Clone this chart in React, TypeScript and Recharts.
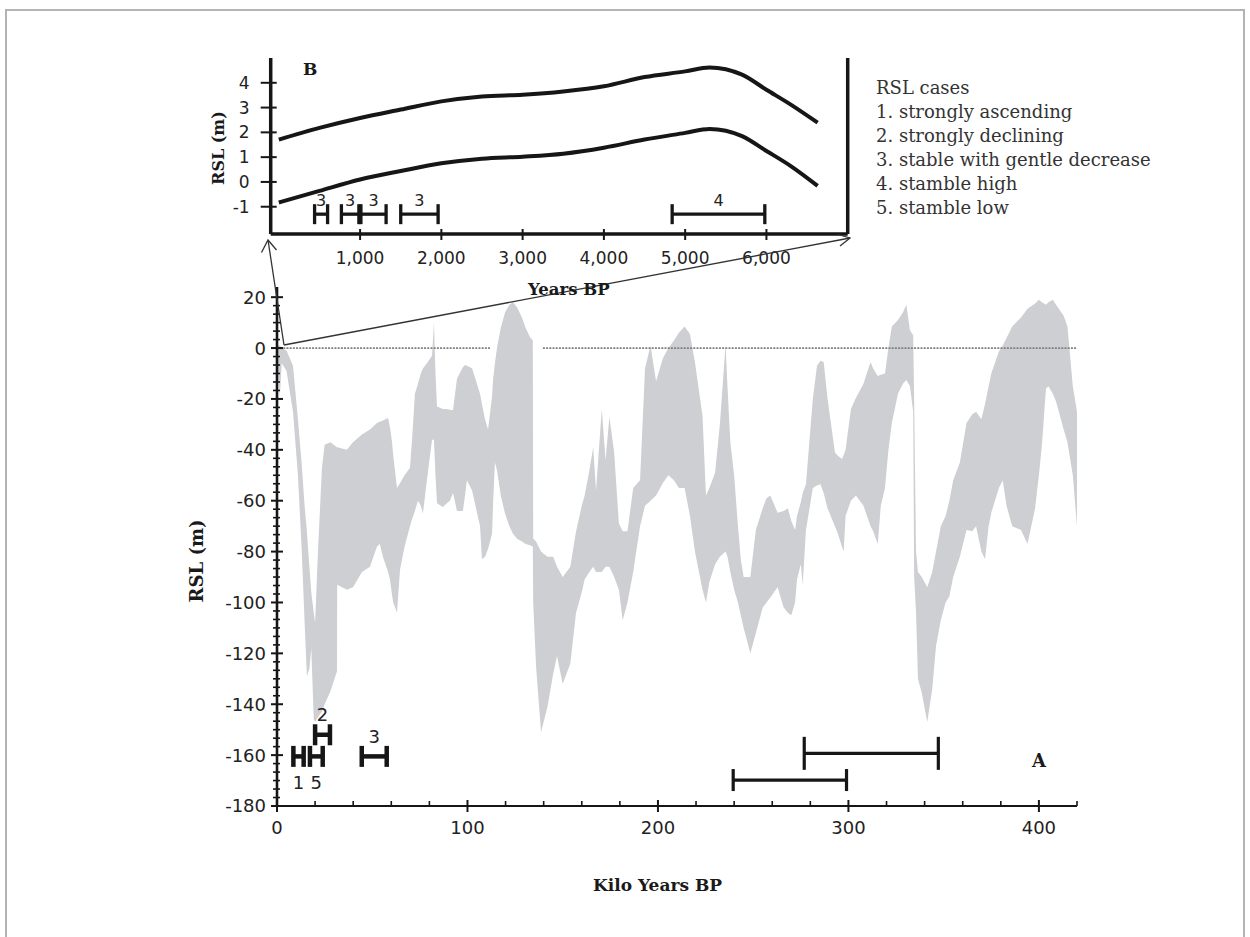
import React from 'react';
import { ComposedChart, Area, Line, XAxis, YAxis, ReferenceLine, Scatter, ErrorBar } from 'recharts';

// ---------- Panel A : RSL envelope (kyr BP, metres) ----------
const bandKyr = [0, 1.5, 2.5, 5, 8.4, 11, 13, 14.5, 15.7, 17, 18, 19.3, 20, 21.5, 23.6, 25, 28, 31.5, 31.6, 36.7, 39.9, 44.6, 48.8, 52.5, 54, 55.6, 58.3, 59.3, 60.4, 61, 63, 64.6, 67, 69.8, 71, 72.4, 74, 75.5, 76.6, 78.7, 81.4, 82.4, 83.2, 84, 87.1, 89.2, 90.8, 92.4, 94.5, 97.6, 98.7, 99.7, 102.4, 106.6, 107.6, 109.2, 110.8, 112.9, 113.5, 114.4, 115.5, 117.5, 119.7, 122, 123.9, 126, 128.6, 130.5, 132.8, 134.3, 134.5, 136, 138.6, 142, 145, 147, 150, 154, 157, 160, 161.5, 164, 166, 167.5, 170.5, 172.5, 174.5, 177, 179.5, 181.5, 184, 187, 190.6, 193.2, 196.1, 199, 202.6, 205.5, 208.4, 211, 214, 216.8, 219.4, 223.4, 225.2, 227, 230, 232.5, 235.5, 236.5, 238, 240, 242, 243.5, 245, 248.5, 251.4, 255, 257, 259, 262.8, 266, 268.2, 270, 272, 273, 275, 276, 277.7, 279.8, 281.3, 283.5, 285.3, 287, 289, 292.9, 294, 296.6, 297.5, 298.5, 301.3, 303.9, 307.9, 311.6, 313, 315.4, 317, 319.2, 321, 322.8, 326, 328.6, 330.4, 332.3, 334, 334.5, 335.5, 336.5, 338.5, 341.4, 344, 346, 348.5, 351, 353, 355, 358.5, 362, 365, 367, 369.8, 371.7, 373.6, 375, 379, 381, 383, 386, 390.6, 394, 398, 400, 401.6, 403.7, 405, 407.3, 409, 413, 415, 417.8, 420];
const bandLow = [-3, -19, -6, -9, -25, -50, -80, -108, -129, -126, -118, -146, -147, -145, -143, -140, -135, -127, -93, -95, -94, -88, -86, -78, -77, -82, -88, -91, -97, -100, -104, -87, -78, -70, -67, -64, -60, -62, -65, -52, -36, -36, -50, -61, -62.5, -61, -60, -57, -64, -64, -58, -52, -56, -70, -83, -82, -79, -73, -60, -45, -48, -58, -65, -70, -73, -75, -76, -77, -77.5, -78, -100, -125, -151, -141, -128, -121, -132, -124, -104, -96, -91, -88, -86, -88, -88, -86, -86, -90, -95, -107, -100, -88, -70, -62, -60, -58, -53, -50, -52, -55, -55, -66, -80, -95, -100, -92, -85, -82, -80, -82, -88, -95, -100, -105, -110, -120, -112, -102, -100, -98, -94, -102, -104, -105, -100, -91, -85, -93, -71.5, -62, -55, -54, -53.5, -57, -63, -70, -72, -78, -80, -66, -60, -58, -62, -70, -72, -77, -62, -55, -40, -29.5, -18, -14, -12.6, -15, -25, -90, -104, -130, -135.6, -147, -134, -117, -107, -100, -97.6, -90, -82, -71.5, -72, -70, -80, -83, -70, -64.7, -55, -52, -62, -70, -71.5, -77, -63, -50, -38, -16, -15, -18, -21, -32, -37, -50, -70];
const bandHigh = [1, 1, 0, -1, -7, -28, -46, -62, -72, -86, -96, -104, -108, -80, -47, -38, -37, -39, -39, -40, -37, -34, -32, -29.5, -29, -28.5, -27.5, -31, -37, -42, -55, -53, -50, -47, -35, -18, -14, -10, -8, -6, -3, 10, -10, -23, -24, -24, -24.2, -24.4, -12, -7.5, -6.7, -7, -7.9, -18, -22, -28, -32, -19, -12, -6, 0, 8, 14, 17, 18, 16, 12, 8, 4.3, 3, -75, -76, -80, -82, -82, -86, -90, -86, -72, -62, -58, -48, -39, -56, -24, -44, -27, -41, -69, -72, -72, -55, -52, -8, 1, -13, -4, 0, 3, 6, 8.5, 5.5, -5.5, -26.6, -58, -55, -49, -30, 1.4, -15, -37, -50, -70, -83, -90, -90, -71.5, -63, -59, -58, -64.7, -64, -63, -68, -71.5, -66, -60.6, -57, -53.5, -34, -20, -7, -5, -5.5, -19.6, -41, -42, -43.6, -42, -40, -24, -19.6, -14, -5.5, -8, -11, -10.5, -10, 0, 8.5, 11, 14, 17, 7, 5, -20, -80, -88, -90, -94, -88, -80, -70, -66, -60, -52, -45, -29.5, -26, -25, -28, -22, -15, -10, -1.4, 1, 4, 8.5, 12, 15.5, 17.5, 19, 18, 17, 18, 19, 17, 12.7, 8.5, -15, -25];

const zeroLineFrom = [1.6, 139.6];
const zeroLineTo = [111.8, 420];

const mainXTicks = [0, 20, 40, 60, 80, 100, 120, 140, 160, 180, 200, 220, 240, 260, 280, 300, 320, 340, 360, 380, 400, 420];
const mainYMajorTicks = [-180, -160, -140, -120, -100, -80, -60, -40, -20, 0, 20];

const shortCaseLabels = ['1', '5', '2', '3'];
const shortCaseFrom = [8.6, 17.3, 20, 44.5];
const shortCaseTo = [14, 24, 27.8, 57.6];
const shortCaseRsl = [-160.5, -160.5, -152, -160.5];

const longCaseFrom = [276.8, 239.5];
const longCaseTo = [347.2, 299];
const longCaseRsl = [-159.3, -169.8];

// ---------- Panel B : Holocene inset (years BP, metres) ----------
const insetYears = [0, 500, 1000, 1500, 2000, 2500, 3000, 3500, 4000, 4500, 5000, 5300, 5700, 6000, 6300, 6630];
const insetUpper = [1.71, 2.18, 2.58, 2.92, 3.25, 3.45, 3.52, 3.65, 3.86, 4.23, 4.46, 4.62, 4.33, 3.72, 3.12, 2.39];
const insetLower = [-0.83, -0.36, 0.1, 0.44, 0.75, 0.94, 1.02, 1.14, 1.38, 1.71, 1.98, 2.14, 1.85, 1.25, 0.64, -0.16];
const insetXTicks = [1000, 2000, 3000, 4000, 5000, 6000];
const insetYTicks = [-1, 0, 1, 2, 3, 4];
const insetCaseLabels = ['3', '3', '3', '3', '4'];
const insetCaseFrom = [440, 770, 1010, 1500, 4840];
const insetCaseTo = [600, 985, 1320, 1960, 5980];
const insetCaseRsl = [-1.3, -1.3, -1.3, -1.3, -1.3];

const legendLines = ['RSL cases', '1. strongly ascending', '2. strongly declining', '3. stable with gentle decrease', '4. stamble high', '5. stamble low'];

// ---------- derived tables ----------
const bandData = bandKyr.map((k, i) => ({ k, range: [bandLow[i], bandHigh[i]] }));

const mainYTicks: number[] = [];
mainYMajorTicks.forEach((t, i) => {
  mainYTicks.push(t);
  if (i < mainYMajorTicks.length - 1) {
    const step = (mainYMajorTicks[i + 1] - t) / 6;
    for (let j = 1; j < 6; j++) mainYTicks.push(t + step * j);
  }
});

const toCases = (labels: string[] | null, from: number[], to: number[], lvl: number[], xKey: string) =>
  from.map((f, i) => ({ [xKey]: (f + to[i]) / 2, v: lvl[i], err: (to[i] - f) / 2, label: labels ? labels[i] : '' }));

const shortCases = toCases(shortCaseLabels, shortCaseFrom, shortCaseTo, shortCaseRsl, 'k');
const shortBelow = shortCases.filter((c) => c.label === '1' || c.label === '5');
const shortAbove = shortCases.filter((c) => c.label === '2' || c.label === '3');
const longCases = toCases(null, longCaseFrom, longCaseTo, longCaseRsl, 'k');
const longTop = [longCases[0]];
const longBottom = [longCases[1]];

const insetData = insetYears.map((yr, i) => ({ yr, hi: insetUpper[i], lo: insetLower[i] }));
const insetCases = toCases(insetCaseLabels, insetCaseFrom, insetCaseTo, insetCaseRsl, 'yr');

const SANS = 'DejaVu Sans';
const SERIF = 'DejaVu Serif';
const INK = '#161616';

const MainYTick = (props: any) => {
  const { x, y, payload } = props;
  const v = payload.value;
  const major = Math.abs(v / 20 - Math.round(v / 20)) < 1e-6;
  return (
    <g>
      <line x1={major ? x - 6 : x - 4} x2={major ? x + 6 : x + 3} y1={y} y2={y} stroke={INK} strokeWidth={major ? 2 : 1.6} />
      {major && (
        <text x={x - 11} y={y} dy="0.36em" textAnchor="end" fontFamily={SANS} fontSize={18} fill="#222">
          {Math.round(v)}
        </text>
      )}
    </g>
  );
};

const MainXTick = (props: any) => {
  const { x, y, payload } = props;
  const v = payload.value;
  const major = v % 100 === 0;
  return (
    <g>
      <line x1={x} x2={x} y1={major ? y - 6 : y - 5} y2={major ? y + 6 : y} stroke={INK} strokeWidth={major ? 2 : 1.6} />
      {major && (
        <text x={x} y={y + 28} textAnchor="middle" fontFamily={SANS} fontSize={18} fill="#222">
          {v}
        </text>
      )}
    </g>
  );
};

const InsetYTick = (props: any) => {
  const { x, y, payload } = props;
  return (
    <g>
      <line x1={x - 10} x2={x + 6} y1={y} y2={y} stroke={INK} strokeWidth={2} />
      <text x={x - 21} y={y} dy="0.36em" textAnchor="end" fontFamily={SANS} fontSize={17} fill="#222">
        {payload.value}
      </text>
    </g>
  );
};

const InsetXTick = (props: any) => {
  const { x, y, payload } = props;
  return (
    <g>
      <line x1={x} x2={x} y1={y - 5} y2={y + 6} stroke={INK} strokeWidth={2} />
      <text x={x} y={y + 30} textAnchor="middle" fontFamily={SANS} fontSize={17} fill="#222">
        {payload.value.toLocaleString('en-US')}
      </text>
    </g>
  );
};

const labelShape = (dy: number, size: number, family: string, weight: string | number) => (props: any) => {
  const { cx, cy, payload } = props;
  if (!payload || !payload.label) return <g />;
  return (
    <text x={cx} y={cy + dy} dy="0.36em" textAnchor="middle" fontFamily={family} fontSize={size} fontWeight={weight} fill="#222">
      {payload.label}
    </text>
  );
};

const emptyShape = () => <g />;

export default function App() {
  return (
    <div style={{ position: 'fixed', left: 0, top: 0, width: 1250, height: 937, background: '#fff', overflow: 'hidden' }}>
      <div style={{ position: 'absolute', left: 5, top: 9, width: 1236, height: 960, border: '2px solid #b4b4b4' }} />

      {/* Panel A */}
      <div style={{ position: 'absolute', left: 0, top: 0 }}>
        <ComposedChart width={1250} height={937} data={bandData} margin={{ top: 287, right: 173, bottom: 101, left: 217 }}>
          <XAxis
            type="number"
            dataKey="k"
            domain={[0, 420]}
            ticks={mainXTicks}
            interval={0}
            tick={<MainXTick />}
            tickLine={false}
            tickSize={0}
            tickMargin={0}
            height={30}
            axisLine={{ stroke: INK, strokeWidth: 2 }}
          />
          <YAxis
            type="number"
            domain={[-180, 24]}
            ticks={mainYTicks}
            interval={0}
            tick={<MainYTick />}
            tickLine={false}
            tickSize={0}
            tickMargin={0}
            width={60}
            axisLine={{ stroke: INK, strokeWidth: 2.6 }}
          />
          <Area
            dataKey="range"
            type="linear"
            stroke="none"
            fill="#cdcfd2"
            fillOpacity={1}
            isAnimationActive={false}
            dot={false}
            activeDot={false}
          />
          {zeroLineFrom.map((f, i) => (
            <ReferenceLine
              key={'z' + i}
              segment={[{ x: f, y: 0 }, { x: zeroLineTo[i], y: 0 }]}
              stroke="#808080"
              strokeWidth={1.8}
              strokeDasharray="2 1.2"
            />
          ))}
          <Scatter data={shortBelow} dataKey="v" shape={labelShape(26, 18, SANS, 400)} isAnimationActive={false}>
            <ErrorBar dataKey="err" direction="x" width={10.5} stroke={INK} strokeWidth={4.5} />
          </Scatter>
          <Scatter data={shortAbove} dataKey="v" shape={labelShape(-20, 18, SANS, 400)} isAnimationActive={false}>
            <ErrorBar dataKey="err" direction="x" width={10.5} stroke={INK} strokeWidth={4.5} />
          </Scatter>
          <Scatter data={longTop} dataKey="v" shape={emptyShape} isAnimationActive={false}>
            <ErrorBar dataKey="err" direction="x" width={16.5} stroke={INK} strokeWidth={3.2} />
          </Scatter>
          <Scatter data={longBottom} dataKey="v" shape={emptyShape} isAnimationActive={false}>
            <ErrorBar dataKey="err" direction="x" width={11} stroke={INK} strokeWidth={3.2} />
          </Scatter>
        </ComposedChart>
      </div>

      {/* Panel B */}
      <div style={{ position: 'absolute', left: 0, top: 0 }}>
        <ComposedChart width={1250} height={320} data={insetData} margin={{ top: 58, right: 402.3, bottom: 56, left: 210.7 }}>
          <XAxis
            type="number"
            dataKey="yr"
            domain={[-100, 7000]}
            ticks={insetXTicks}
            interval={0}
            tick={<InsetXTick />}
            tickLine={false}
            tickSize={0}
            tickMargin={0}
            height={30}
            axisLine={{ stroke: INK, strokeWidth: 3.5 }}
          />
          <YAxis
            type="number"
            domain={[-2.1, 5]}
            ticks={insetYTicks}
            interval={0}
            tick={<InsetYTick />}
            tickLine={false}
            tickSize={0}
            tickMargin={0}
            width={60}
            axisLine={{ stroke: INK, strokeWidth: 3.5 }}
          />
          <ReferenceLine x={7000} stroke={INK} strokeWidth={3.5} ifOverflow="visible" />
          <Line dataKey="hi" type="monotone" stroke={INK} strokeWidth={4} dot={false} activeDot={false} isAnimationActive={false} />
          <Line dataKey="lo" type="monotone" stroke={INK} strokeWidth={4} dot={false} activeDot={false} isAnimationActive={false} />
          <Scatter data={insetCases} dataKey="v" shape={labelShape(-14, 16, SANS, 400)} isAnimationActive={false}>
            <ErrorBar dataKey="err" direction="x" width={10} stroke={INK} strokeWidth={3.3} />
          </Scatter>
        </ComposedChart>
      </div>

      {/* titles, legend and zoom connectors */}
      <svg width={1250} height={937} style={{ position: 'absolute', left: 0, top: 0, pointerEvents: 'none' }}>
        <g stroke="#333" strokeWidth={1.3} fill="none">
          <line x1={284} y1={345} x2={268} y2={240} />
          <polyline points="261.5,252.5 268,240 276.5,250" />
          <line x1={284} y1={345} x2={850} y2={238} />
          <polyline points="838,234.5 850,238 840,246" />
        </g>
        <text x={196} y={561} transform="rotate(-90 196 561)" textAnchor="middle" dominantBaseline="central" fontFamily={SERIF} fontWeight="bold" fontSize={18} fill="#1a1a1a">
          RSL (m)
        </text>
        <text x={593} y={891} fontFamily={SERIF} fontWeight="bold" fontSize={17} fill="#1a1a1a">
          Kilo Years BP
        </text>
        <text x={1032} y={767} fontFamily={SERIF} fontWeight="bold" fontSize={18} fill="#1a1a1a">
          A
        </text>
        <text x={218} y={148} transform="rotate(-90 218 148)" textAnchor="middle" dominantBaseline="central" fontFamily={SERIF} fontWeight="bold" fontSize={16} fill="#1a1a1a">
          RSL (m)
        </text>
        <text x={528} y={295} fontFamily={SERIF} fontWeight="bold" fontSize={16.5} fill="#1a1a1a">
          Years BP
        </text>
        <text x={303} y={75} fontFamily={SERIF} fontWeight="bold" fontSize={17} fill="#1a1a1a">
          B
        </text>
        {legendLines.map((t, i) => (
          <text key={t} x={876} y={94 + i * 24} fontFamily={SERIF} fontSize={18} fill="#333">
            {t}
          </text>
        ))}
      </svg>
    </div>
  );
}
